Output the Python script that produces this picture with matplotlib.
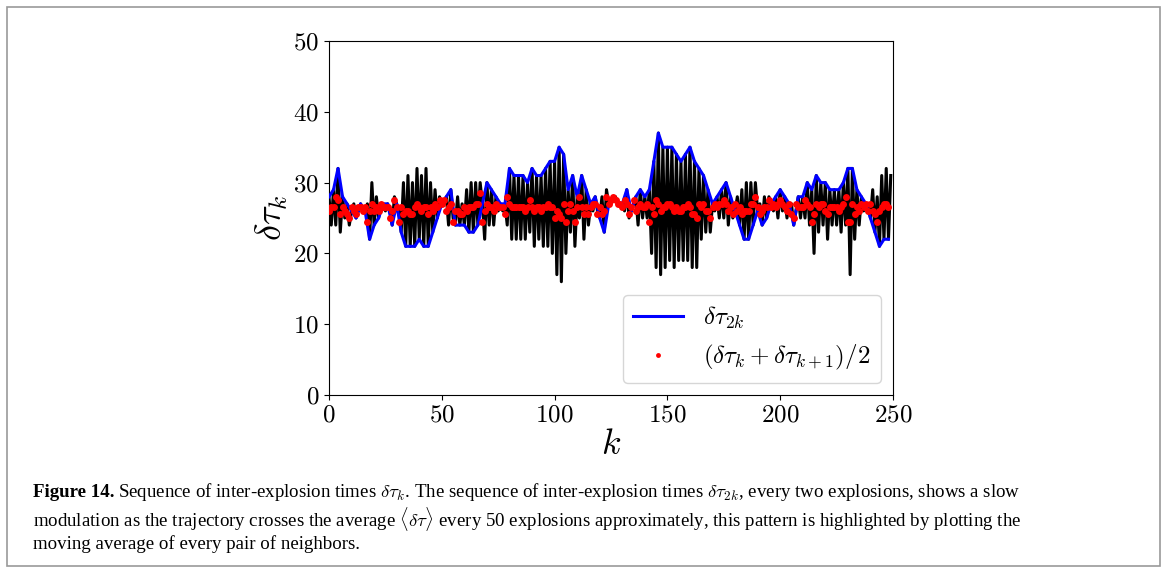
import numpy as np
import matplotlib
matplotlib.use('Agg')
import matplotlib.pyplot as plt
from matplotlib.patches import Rectangle

# Data: inter-explosion times
# even indices k = 0, 2, ..., 248 (this is the blue delta tau_2k curve)
tau_even = [28, 29, 32, 28, 27, 26, 25, 27, 26, 22,
            24, 25, 27, 27, 24, 27, 23, 21, 21, 21,
            22, 21, 21, 23, 25, 27, 28, 29, 24, 24,
            24, 23, 23, 24, 27, 30, 29, 28, 27, 27,
            32, 31, 31, 31, 30, 32, 31, 31, 32, 33,
            33, 35, 34, 29, 31, 28, 31, 29, 27, 28,
            25, 23, 27, 28, 27, 27, 29, 26, 28, 29,
            28, 29, 33, 37, 35, 35, 35, 34, 33, 34,
            35, 33, 32, 31, 29, 27, 28, 29, 30, 28,
            26, 24, 22, 22, 24, 26, 24, 25, 27, 28,
            29, 28, 27, 24, 28, 28, 30, 29, 31, 30,
            30, 29, 29, 29, 30, 32, 32, 29, 28, 27,
            25, 23, 21, 22, 22]
# odd indices k = 1, 3, ..., 249
tau_odd = [24, 24, 23, 25, 24, 27, 26, 26, 27, 30,
           28, 27, 26, 26, 28, 26, 30, 31, 30, 32,
           31, 32, 30, 29, 28, 27, 24, 25, 28, 27,
           29, 30, 30, 30, 22, 24, 24, 26, 26, 24,
           22, 22, 22, 22, 23, 21, 22, 21, 21, 20,
           17, 16, 20, 23, 21, 25, 22, 24, 26, 26,
           28, 29, 27, 28, 27, 26, 25, 27, 24, 25,
           25, 20, 18, 17, 18, 19, 18, 19, 19, 19,
           18, 18, 22, 23, 23, 26, 25, 25, 24, 25,
           28, 29, 30, 30, 30, 27, 28, 28, 26, 25,
           26, 25, 27, 26, 25, 25, 24, 20, 23, 24,
           22, 24, 24, 23, 24, 17, 22, 24, 26, 27,
           29, 28, 31, 32, 31]

tau = np.empty(len(tau_even) + len(tau_odd))
tau[0::2] = tau_even
tau[1::2] = tau_odd
k = np.arange(len(tau))
k_even = k[0::2]
tau_pair_mean = (tau[:-1] + tau[1:]) / 2

# Style
plt.rcParams['font.family'] = 'serif'
plt.rcParams['font.serif'] = ['cmr10', 'DejaVu Serif']
plt.rcParams['mathtext.fontset'] = 'cm'
plt.rcParams['axes.formatter.use_mathtext'] = True

tick_font_size = 18
label_font_size = 26
legend_font_size = 18

W, H = 1165, 573
fig = plt.figure(figsize=(W / 100, H / 100), dpi=100)
ax = fig.add_axes([329 / W, 178 / H, 564 / W, 354 / H])

ax.plot(k, tau, color='k', linewidth=2.2, zorder=2)
ax.plot(k_even, tau_even, color='#0000ff', linewidth=2.2,
        label=r'$\delta\tau_{2k}$', zorder=3)
ax.plot(k[:-1], tau_pair_mean, 'o', color='#ff0000', markersize=5,
        markeredgewidth=0, label=r'$(\delta\tau_k+\delta\tau_{k+1})/2$',
        zorder=4)

ax.set_xlim([0, 250])
ax.set_ylim([0, 50])
ax.xaxis.set_ticks([0, 50, 100, 150, 200, 250])
ax.yaxis.set_ticks([0, 10, 20, 30, 40, 50])
ax.tick_params(axis='both', which='major', labelsize=tick_font_size)
ax.set_xlabel(r'$k$', fontsize=label_font_size, labelpad=2)
ax.set_ylabel(r'$\delta\tau_k$', fontsize=label_font_size, labelpad=2)

ax.legend(fontsize=legend_font_size, loc='lower right', markerscale=0.7,
          handlelength=2.0)

# Caption, three lines; lines are pushed down only if their boxes would touch
cap_font = 'Liberation Serif'
cap_size = 13.6
x0 = 33 / W
renderer = fig.canvas.get_renderer()

bold = fig.text(x0, 1 - 497 / H, 'Figure 14.', fontsize=cap_size,
                family=cap_font, weight='bold', va='baseline', ha='left')
bb = bold.get_window_extent(renderer=renderer)
line1 = fig.text((bb.x1 + 4) / W, 1 - 497 / H,
                 r'Sequence of inter-explosion times $\delta\tau_k$. The '
                 r'sequence of inter-explosion times $\delta\tau_{2k}$, every '
                 r'two explosions, shows a slow',
                 fontsize=cap_size, family=cap_font, va='baseline', ha='left')
prev = [bold, line1]
cap_lines = [
    r'modulation as the trajectory crosses the average '
    r'$\langle\delta\tau\rangle$ every 50 explosions approximately, '
    r'this pattern is highlighted by plotting the',
    'moving average of every pair of neighbors.',
]
y_base = [519, 541]
for text, yb in zip(cap_lines, y_base):
    t = fig.text(x0, 1 - yb / H, text, fontsize=cap_size, family=cap_font,
                 va='baseline', ha='left')
    low = min(p.get_window_extent(renderer=renderer).y0 for p in prev)
    top = t.get_window_extent(renderer=renderer).y1
    if top >= low - 1:
        t.set_y(t.get_position()[1] - (top - low + 2) / H)
    prev = [t]

# figure frame
fig.patches.append(Rectangle((7 / W, 7 / H), 1153 / W, 559 / H,
                             transform=fig.transFigure, fill=False,
                             edgecolor='#999999', linewidth=1.2))

fig.savefig('out.png', dpi=100)
